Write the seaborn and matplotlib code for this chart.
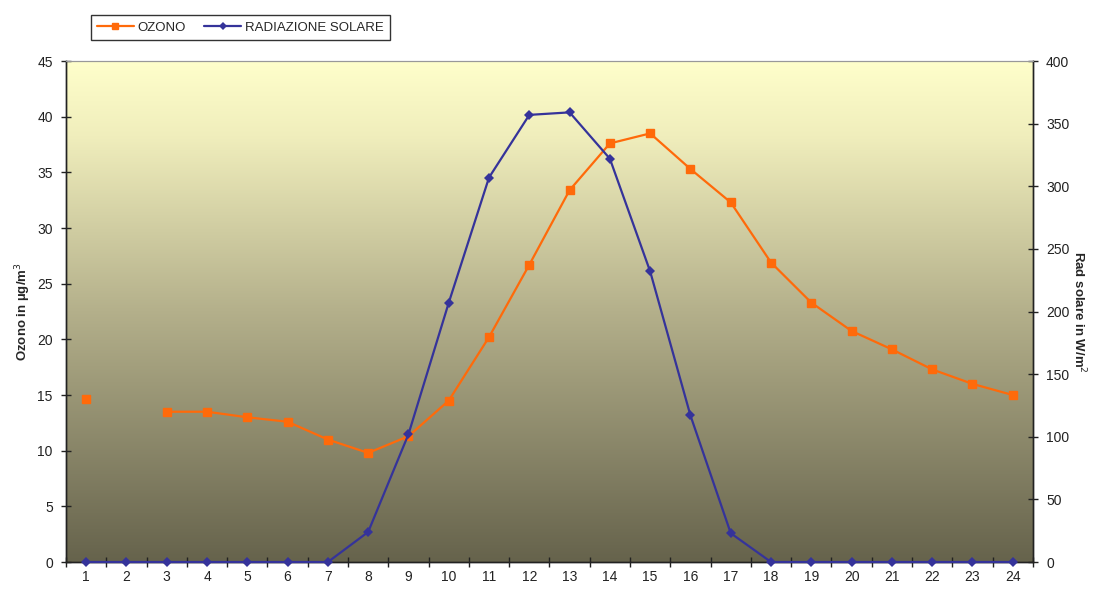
import numpy as np
import matplotlib
matplotlib.use("Agg")
import matplotlib.pyplot as plt
import seaborn as sns
from matplotlib.colors import LinearSegmentedColormap

# dati orari
ore = list(range(1, 25))
ozono = [14.6, np.nan, 13.5, 13.5, 13.0, 12.6, 11.0, 9.8, 11.3, 14.5, 20.2, 26.7,
         33.4, 37.6, 38.5, 35.3, 32.3, 26.9, 23.3, 20.75, 19.1, 17.3, 16.0, 15.0]
radiazione = [0, 0, 0, 0, 0, 0, 0, 24, 102, 207, 307, 357,
              359, 322, 232, 117, 23, 0, 0, 0, 0, 0, 0, 0]

sns.set_theme(style="white")
plt.rcParams['font.family'] = ['Liberation Sans', 'DejaVu Sans']

fig = plt.figure(figsize=(10.93, 5.89), dpi=100)
ax = fig.add_axes([0.0604, 0.0458, 0.8846, 0.8506])

# sfondo a gradiente
cmap = LinearSegmentedColormap.from_list(
    "bg", [(0, "#66634c"), (0.5, "#b4b08b"), (0.85, "#f0eebc"), (1, "#ffffcb")], N=256)
grad = np.linspace(0, 1, 256).reshape(-1, 1)
ax.imshow(grad, extent=[0, 1, 0, 1], transform=ax.transAxes, aspect='auto',
          cmap=cmap, origin='lower', zorder=0)

ax2 = ax.twinx()

col_o3 = "#ff6a0a"
col_rad = "#35339a"

l1, = ax.plot(ore, ozono, color=col_o3, lw=1.6, marker='s', ms=6,
              label="OZONO", zorder=3)
sns.lineplot(x=ore, y=radiazione, ax=ax2, color=col_rad, lw=1.6, marker='D',
             markersize=5.5, markeredgewidth=0, label="RADIAZIONE SOLARE",
             zorder=3, clip_on=False)
l2 = ax2.get_lines()[0]
ax2.get_legend().remove()

ax.set_xlim(0.5, 24.5)
ax.set_ylim(0, 45)
ax2.set_ylim(0, 400)
ax.set_yticks(range(0, 46, 5))
ax2.set_yticks(range(0, 401, 50))
ax.set_xticks(ore)
ax.set_xticks(np.arange(0.5, 25, 1), minor=True)

ax.tick_params(axis='x', which='major', length=0, labelsize=10, pad=6, colors='#222222')
ax.tick_params(axis='x', which='minor', length=7, direction='inout', width=1,
               color='#222222', bottom=True)
ax.tick_params(axis='y', length=7, direction='inout', width=1, labelsize=10,
               color='#222222', labelcolor='#222222', left=True, pad=6)
ax2.tick_params(axis='y', length=7, direction='inout', width=1, labelsize=10,
                color='#222222', labelcolor='#222222', right=True, pad=6)

for a in (ax, ax2):
    for s in ('left', 'bottom', 'right'):
        a.spines[s].set_color('#222222')
        a.spines[s].set_linewidth(1)
    a.spines['top'].set_color('#999999')
    a.spines['top'].set_linewidth(0.8)

ax.set_ylabel("Ozono in µg/m$^3$", fontsize=9.5, fontweight='bold', labelpad=3)
ax2.set_ylabel("Rad solare in W/m$^2$", fontsize=9.5, fontweight='bold',
               rotation=270, labelpad=1, va='bottom')
ax.grid(False)
ax2.grid(False)

leg = fig.legend([l1, l2], ["OZONO", "RADIAZIONE SOLARE"], loc='upper left',
                 bbox_to_anchor=(0.077, 0.985), ncol=2, fontsize=9.5,
                 frameon=True, fancybox=False, handlelength=2.8,
                 columnspacing=1.4, handletextpad=0.3, borderpad=0.45)
leg.get_frame().set_edgecolor('#000000')
leg.get_frame().set_linewidth(1)
for h in leg.legend_handles:
    h.set_markersize(4)

fig.savefig("out.png", dpi=100)
